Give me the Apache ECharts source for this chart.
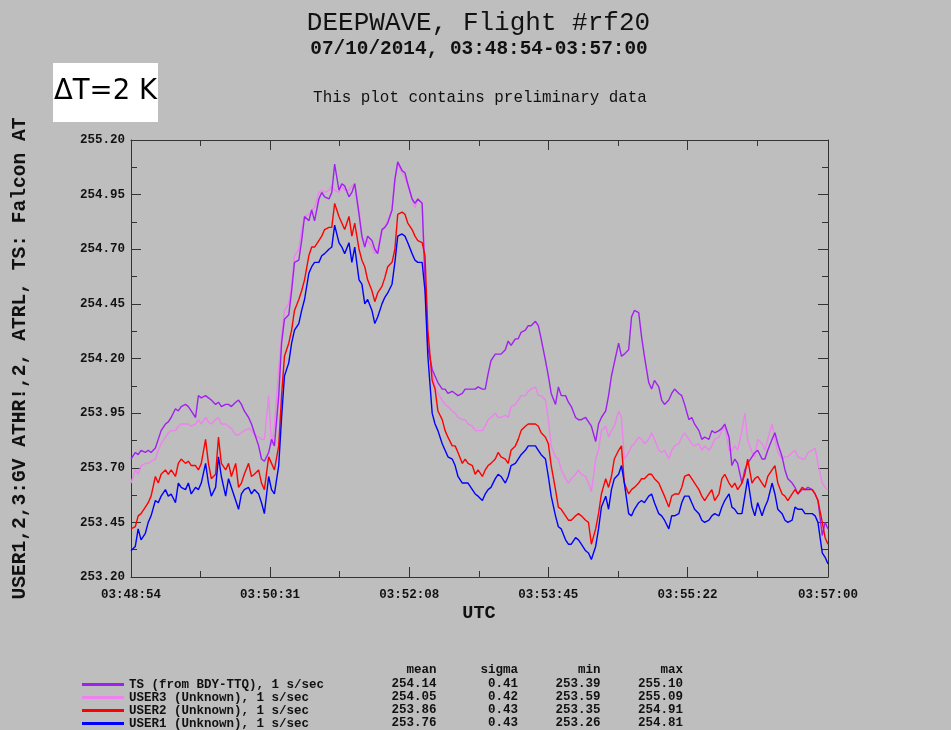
<!DOCTYPE html>
<html>
<head>
<meta charset="utf-8">
<title>DEEPWAVE, Flight #rf20</title>
<script src="https://cdn.jsdelivr.net/npm/echarts@6/dist/echarts.min.js"></script>
<style>
  html, body { margin: 0; padding: 0; background: #bebebe; }
  #chart { width: 951px; height: 730px; }
</style>
</head>
<body>
<div id="chart"></div>
<script>
// Seconds after 03:48:54 UTC
const TIME = [
  0,3,5,7,10,12,14,17,19,21,
  24,26,28,31,33,35,38,40,42,45,
  47,49,52,54,56,59,61,63,66,68,
  70,73,75,77,79,82,84,86,89,91,
  93,96,98,100,103,105,107,110,112,114,
  117,119,121,124,126,128,131,133,135,138,
  140,142,145,147,149,152,154,156,159,161,
  163,165,168,170,172,175,177,179,182,184,
  186,189,191,193,196,198,200,203,205,207,
  210,212,214,217,219,221,224,226,228,231,
  233,235,238,240,242,245,247,249,251,254,
  256,258,261,263,265,268,270,272,275,277,
  279,282,284,286,289,291,293,296,298,300,
  303,305,307,310,312,314,317,319,321,324,
  326,328,331,333,335,337,340,342,344,347,
  349,351,354,356,358,361,363,365,368,370,
  372,375,377,379,382,384,386,389,391,393,
  396,398,400,403,405,407,410,412,414,417,
  419,421,423,426,428,430,433,435,437,440,
  442,444,447,449,451,454,456,458,461,463,
  465,468,470,472,475,477,479,482,484,486
];

// TS (from BDY-TTQ), K
const TS = [
  253.74,253.77,253.76,253.78,253.77,253.78,253.77,253.79,253.83,253.87,
  253.90,253.91,253.93,253.97,253.96,253.98,253.99,253.98,253.96,253.93,
  254.03,254.02,254.03,254.02,254.01,253.99,254.00,253.98,253.99,253.99,
  253.98,254.00,254.01,253.99,253.96,253.93,253.90,253.86,253.80,253.74,
  253.73,253.77,253.83,253.80,254.03,254.27,254.38,254.40,254.51,254.64,
  254.65,254.74,254.85,254.83,254.88,254.83,254.93,254.96,254.94,254.93,
  254.96,255.09,254.97,255.00,254.99,254.94,254.96,255.00,254.86,254.76,
  254.71,254.76,254.74,254.70,254.68,254.79,254.80,254.82,254.88,255.02,
  255.10,255.06,255.05,255.00,254.93,254.91,254.93,254.91,254.56,254.25,
  254.15,254.12,254.09,254.06,254.06,254.04,254.05,254.04,254.03,254.04,
  254.06,254.06,254.06,254.06,254.07,254.06,254.06,254.13,254.19,254.22,
  254.22,254.22,254.24,254.28,254.26,254.29,254.29,254.32,254.33,254.35,
  254.35,254.37,254.35,254.29,254.19,254.12,254.04,253.99,254.07,254.03,
  254.03,254.00,253.98,253.93,253.92,253.92,253.93,253.91,253.89,253.82,
  253.90,253.93,253.96,254.03,254.12,254.18,254.27,254.21,254.22,254.24,
  254.39,254.42,254.41,254.30,254.21,254.09,254.06,254.10,254.07,254.01,
  253.99,254.01,254.04,254.06,254.04,254.03,253.99,253.92,253.93,253.90,
  253.87,253.83,253.84,253.83,253.87,253.86,253.87,253.88,253.90,253.84,
  253.71,253.74,253.72,253.63,253.69,253.72,253.75,253.77,253.78,253.74,
  253.74,253.78,253.83,253.86,253.81,253.75,253.69,253.65,253.63,253.61,
  253.58,253.60,253.60,253.61,253.60,253.58,253.55,253.39,253.45,253.42
];

// USER3 (Unknown), K
const USER3 = [
  253.63,253.69,253.67,253.71,253.72,253.72,253.73,253.74,253.78,253.81,
  253.84,253.86,253.87,253.87,253.89,253.90,253.90,253.90,253.89,253.90,
  253.92,253.90,253.93,253.91,253.90,253.92,253.93,253.90,253.90,253.89,
  253.88,253.85,253.85,253.86,253.87,253.88,253.87,253.85,253.84,253.83,
  253.83,254.03,253.80,253.89,254.15,254.30,254.42,254.45,254.54,254.67,
  254.70,254.79,254.85,254.86,254.88,254.89,254.96,254.97,254.96,254.97,
  254.99,254.97,254.96,254.99,254.97,254.97,254.99,255.00,254.88,254.76,
  254.73,254.74,254.71,254.68,254.70,254.79,254.80,254.83,254.88,255.02,
  255.09,255.05,255.03,254.99,254.93,254.89,254.93,254.91,254.61,254.25,
  254.15,254.07,254.04,254.01,253.99,253.98,253.96,253.95,253.93,253.92,
  253.92,253.90,253.89,253.87,253.87,253.87,253.89,253.92,253.93,253.95,
  253.93,253.93,253.94,253.93,253.98,253.99,254.01,254.03,254.03,254.05,
  254.06,254.07,254.03,254.03,254.01,253.92,253.80,253.75,253.74,253.69,
  253.65,253.63,253.65,253.67,253.69,253.67,253.66,253.63,253.59,253.74,
  253.78,253.87,253.89,253.84,253.87,253.89,253.96,253.93,253.74,253.77,
  253.80,253.81,253.84,253.83,253.81,253.83,253.86,253.83,253.78,253.77,
  253.78,253.74,253.78,253.80,253.81,253.84,253.86,253.83,253.81,253.80,
  253.81,253.78,253.80,253.78,253.80,253.83,253.84,253.87,253.89,253.78,
  253.78,253.80,253.78,253.87,253.95,253.83,253.77,253.75,253.83,253.81,
  253.78,253.83,253.90,253.83,253.77,253.74,253.75,253.75,253.77,253.78,
  253.75,253.74,253.74,253.77,253.78,253.79,253.72,253.63,253.61,253.60
];

// USER2 (Unknown), K
const USER2 = [
  253.42,253.43,253.48,253.49,253.52,253.54,253.57,253.66,253.63,253.67,
  253.69,253.67,253.69,253.66,253.72,253.74,253.72,253.73,253.71,253.71,
  253.69,253.72,253.83,253.72,253.65,253.67,253.84,253.72,253.69,253.72,
  253.66,253.72,253.61,253.63,253.67,253.72,253.66,253.67,253.69,253.63,
  253.60,253.75,253.72,253.69,253.80,254.03,254.21,254.27,254.33,254.42,
  254.47,254.51,254.56,254.67,254.71,254.71,254.74,254.76,254.79,254.80,
  254.80,254.91,254.85,254.82,254.79,254.85,254.76,254.82,254.70,254.65,
  254.62,254.56,254.51,254.46,254.50,254.53,254.57,254.62,254.64,254.70,
  254.86,254.87,254.86,254.82,254.79,254.76,254.74,254.73,254.67,254.33,
  254.10,254.06,253.96,253.92,253.87,253.84,253.80,253.80,253.77,253.72,
  253.74,253.72,253.71,253.67,253.69,253.66,253.69,253.71,253.72,253.74,
  253.77,253.75,253.74,253.72,253.78,253.80,253.83,253.87,253.89,253.90,
  253.90,253.90,253.89,253.86,253.84,253.81,253.71,253.60,253.52,253.51,
  253.48,253.46,253.46,253.48,253.49,253.48,253.46,253.45,253.35,253.42,
  253.49,253.58,253.65,253.61,253.66,253.74,253.78,253.80,253.63,253.58,
  253.60,253.61,253.63,253.65,253.65,253.67,253.67,253.65,253.63,253.60,
  253.57,253.52,253.57,253.58,253.58,253.61,253.66,253.67,253.65,253.63,
  253.60,253.57,253.55,253.58,253.60,253.55,253.58,253.65,253.67,253.63,
  253.61,253.63,253.60,253.63,253.67,253.74,253.63,253.65,253.66,253.63,
  253.61,253.66,253.69,253.71,253.63,253.58,253.57,253.55,253.58,253.60,
  253.58,253.61,253.60,253.60,253.60,253.58,253.55,253.45,253.38,253.35
];

// USER1 (Unknown), K
const USER1 = [
  253.32,253.34,253.42,253.37,253.40,253.45,253.48,253.55,253.54,253.57,
  253.60,253.57,253.58,253.54,253.63,253.61,253.60,253.63,253.58,253.61,
  253.60,253.63,253.72,253.63,253.57,253.61,253.75,253.66,253.57,253.65,
  253.61,253.55,253.51,253.58,253.60,253.61,253.58,253.60,253.58,253.54,
  253.49,253.66,253.60,253.58,253.71,253.93,254.12,254.18,254.27,254.33,
  254.36,254.42,254.47,254.59,254.62,254.64,254.64,254.67,254.68,254.70,
  254.71,254.81,254.73,254.71,254.68,254.73,254.64,254.71,254.56,254.54,
  254.45,254.47,254.42,254.36,254.39,254.45,254.48,254.50,254.54,254.64,
  254.76,254.77,254.76,254.73,254.68,254.65,254.64,254.64,254.51,254.21,
  253.95,253.90,253.87,253.81,253.78,253.75,253.74,253.71,253.66,253.63,
  253.63,253.63,253.60,253.58,253.57,253.55,253.58,253.60,253.61,253.65,
  253.67,253.66,253.63,253.66,253.71,253.72,253.74,253.76,253.78,253.80,
  253.80,253.80,253.78,253.76,253.74,253.66,253.57,253.48,253.43,253.42,
  253.37,253.35,253.35,253.38,253.37,253.35,253.32,253.31,253.28,253.34,
  253.42,253.52,253.57,253.51,253.60,253.65,253.67,253.71,253.63,253.49,
  253.48,253.51,253.54,253.55,253.54,253.57,253.58,253.54,253.49,253.48,
  253.46,253.42,253.48,253.48,253.49,253.54,253.57,253.57,253.54,253.51,
  253.49,253.46,253.45,253.46,253.48,253.49,253.48,253.52,253.55,253.58,
  253.52,253.51,253.49,253.49,253.57,253.65,253.52,253.48,253.54,253.48,
  253.52,253.55,253.63,253.58,253.51,253.49,253.46,253.45,253.46,253.52,
  253.51,253.51,253.49,253.49,253.49,253.48,253.45,253.31,253.29,253.26
];

const SERIES_NAMES = [
  'TS (from BDY-TTQ), 1 s/sec',
  'USER3 (Unknown), 1 s/sec',
  'USER2 (Unknown), 1 s/sec',
  'USER1 (Unknown), 1 s/sec'
];
const SERIES_COLORS = ['#a020f0', '#ee82ee', '#ff0000', '#0000ff'];
// Stacking order of the traces (higher is drawn on top)
const SERIES_Z = [4, 3, 5, 6];

// Summary statistics table
const STAT_MEAN  = [254.14, 254.05, 253.86, 253.76];
const STAT_SIGMA = [0.41, 0.42, 0.43, 0.43];
const STAT_MIN   = [253.39, 253.59, 253.35, 253.26];
const STAT_MAX   = [255.10, 255.09, 254.91, 254.81];

// Axis ticks
const X_MAJOR = [0, 97, 194, 291, 388, 486];
const X_MINOR = [48.5, 145.5, 242.5, 339.5, 437];
const Y_MAJOR = [253.2, 253.45, 253.7, 253.95, 254.2, 254.45, 254.7, 254.95, 255.2];
const Y_MINOR = [253.325, 253.575, 253.825, 254.075, 254.325, 254.575, 254.825, 255.075];

const START_SEC = 3 * 3600 + 48 * 60 + 54;
const MONO = '"Liberation Mono", "DejaVu Sans Mono", monospace';
const FRAME = '#333333';
const INK = '#111111';

function clock(t) {
  const s = START_SEC + Math.round(t);
  const p = n => String(n).padStart(2, '0');
  return p(Math.floor(s / 3600)) + ':' + p(Math.floor(s / 60) % 60) + ':' + p(s % 60);
}

function pairs(values) {
  const n = Math.min(TIME.length, values.length);
  const out = [];
  for (let i = 0; i < n; i++) out.push([TIME[i], values[i]]);
  return out;
}

const hidden = { show: false };
function xAxis(position, ticks, len, withLine, withLabels) {
  return {
    type: 'value', min: 0, max: 486, position: position,
    axisLine: { show: withLine, onZero: false, lineStyle: { color: FRAME, width: 1 } },
    axisTick: { show: true, inside: true, length: len, customValues: ticks, lineStyle: { color: FRAME, width: 1 } },
    axisLabel: withLabels ? {
      show: true, customValues: X_MAJOR, formatter: v => clock(v), margin: 11,
      fontFamily: MONO, fontWeight: 'bold', fontSize: 12.5, color: INK
    } : hidden,
    splitLine: hidden
  };
}
function yAxis(position, ticks, len, withLine, withLabels) {
  return {
    type: 'value', min: 253.2, max: 255.2, position: position,
    axisLine: { show: withLine, onZero: false, lineStyle: { color: FRAME, width: 1 } },
    axisTick: { show: true, inside: true, length: len, customValues: ticks, lineStyle: { color: FRAME, width: 1 } },
    axisLabel: withLabels ? {
      show: true, customValues: Y_MAJOR, formatter: v => v.toFixed(2), margin: 6,
      fontFamily: MONO, fontWeight: 'bold', fontSize: 12.5, color: INK
    } : hidden,
    splitLine: hidden
  };
}

const seriesData = [TS, USER3, USER2, USER1];

function txt(x, y, text, font, align, extra) {
  return Object.assign({
    type: 'text', x: x, y: y, silent: true,
    style: {
      text: text, font: font, fill: INK,
      align: align || 'center', verticalAlign: 'middle',
      textAlign: align || 'center', textVerticalAlign: 'middle'
    }
  }, extra || {});
}

const statCols = [
  { head: 'mean',  x: 436.5, vals: STAT_MEAN },
  { head: 'sigma', x: 518,   vals: STAT_SIGMA },
  { head: 'min',   x: 600.5, vals: STAT_MIN },
  { head: 'max',   x: 683,   vals: STAT_MAX }
];
const ROW_Y = [684.3, 697, 709.7, 722.4];
const TABLE_FONT = 'bold 12.5px ' + MONO;

const graphics = [
  txt(478.5, 23, 'DEEPWAVE, Flight #rf20', '26px ' + MONO),
  txt(479, 49, '07/10/2014, 03:48:54-03:57:00', 'bold 19.4px ' + MONO),
  txt(480, 98, 'This plot contains preliminary data', '15.9px ' + MONO),
  { type: 'rect', silent: true, shape: { x: 53, y: 63, width: 105, height: 59 }, style: { fill: '#ffffff' } },
  txt(54, 92, 'ΔT=2 K', '27.5px "DejaVu Sans", sans-serif', 'left', null),
  txt(20.5, 358.5, 'USER1,2,3:GV ATHR!,2, ATRL, TS: Falcon AT', 'bold 19.6px ' + MONO, 'center', { rotation: Math.PI / 2 }),
  txt(479, 613, 'UTC', 'bold 18.5px ' + MONO)
];
graphics[4].style.fill = '#000000';
statCols.forEach(c => {
  graphics.push(txt(c.x, 669.7, c.head, TABLE_FONT, 'right'));
  c.vals.forEach((v, i) => graphics.push(txt(c.x, ROW_Y[i], v.toFixed(2), TABLE_FONT, 'right')));
});

const chart = echarts.init(document.getElementById('chart'), null, { renderer: 'canvas' });
chart.setOption({
  backgroundColor: '#bebebe',
  animation: false,
  grid: { left: 131, top: 140, width: 697, height: 437, containLabel: false, outerBoundsMode: 'none' },
  xAxis: [
    xAxis('bottom', X_MAJOR, 10, true, true),
    xAxis('bottom', X_MINOR, 6, false, false),
    xAxis('top', X_MAJOR, 10, true, false),
    xAxis('top', X_MINOR, 6, false, false)
  ],
  yAxis: [
    yAxis('left', Y_MAJOR, 10, true, true),
    yAxis('left', Y_MINOR, 6, false, false),
    yAxis('right', Y_MAJOR, 10, true, false),
    yAxis('right', Y_MINOR, 6, false, false)
  ],
  legend: {
    orient: 'vertical', left: 82, top: 678, padding: 0, itemGap: 0,
    itemWidth: 42, itemHeight: 3, icon: 'rect', selectedMode: false,
    data: SERIES_NAMES,
    textStyle: { fontFamily: MONO, fontWeight: 'bold', fontSize: 12.5, color: INK, lineHeight: 12.7, padding: 0 }
  },
  series: seriesData.map((vals, i) => ({
    name: SERIES_NAMES[i],
    type: 'line',
    xAxisIndex: 0, yAxisIndex: 0,
    data: pairs(vals),
    showSymbol: false, symbol: 'none',
    color: SERIES_COLORS[i],
    itemStyle: { color: SERIES_COLORS[i] },
    lineStyle: { color: SERIES_COLORS[i], width: 1.4 },
    clip: true,
    z: SERIES_Z[i]
  })),
  graphic: graphics
});
</script>
</body>
</html>
